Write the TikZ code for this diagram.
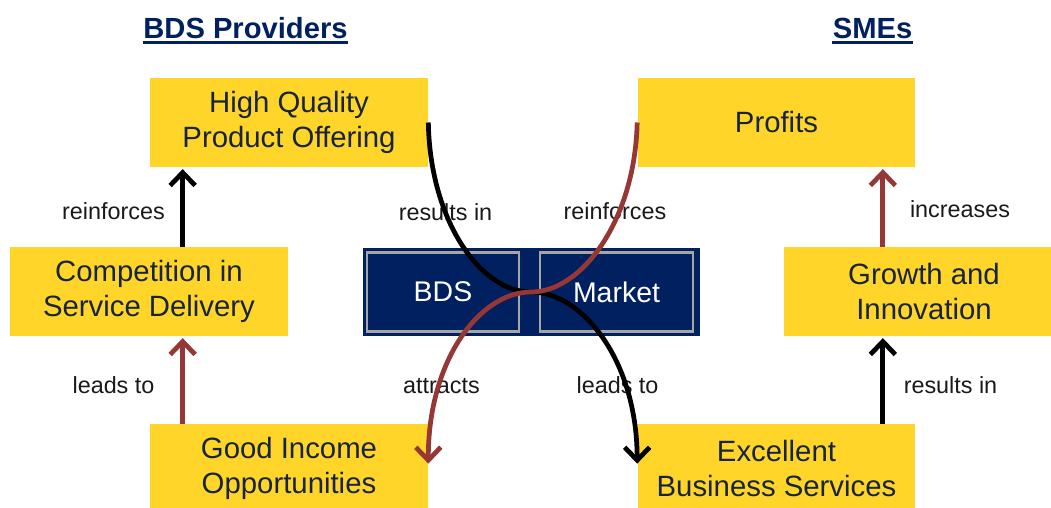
\documentclass[tikz,border=0pt]{standalone}
\usepackage{fontspec}
\setmainfont{Liberation Sans}
\usetikzlibrary{arrows.meta, positioning}
\definecolor{boxyellow}{RGB}{255,213,42}
\definecolor{navy}{RGB}{0,32,96}
\definecolor{boxtext}{RGB}{24,36,62}
\definecolor{brownred}{RGB}{149,55,53}
\tikzset{
    box/.style={
        rectangle, minimum width=5.56cm, minimum height=1.78cm, text centered, align=center,
        fill=boxyellow, text=boxtext, font=\fontsize{16.7}{19.6}\selectfont
    },
    title/.style={
        anchor=base, inner sep=0pt, text=navy, font=\fontsize{16.6}{20}\selectfont\bfseries
    },
    lbl/.style={
        anchor=base, inner sep=0pt, text=black!90, font=\fontsize{13.3}{16}\selectfont
    },
    market/.style={
        rectangle, draw=black!35, line width=1.2pt, fill=navy, text=white,
        minimum width=3.05cm, minimum height=1.58cm, font=\fontsize{16.2}{19}\selectfont
    },
    arrow/.style={
        line width=2.7pt, -{Straight Barb[length=2.6mm, width=5mm]}, shorten >=1pt
    }
}

\begin{document}
\begin{tikzpicture}[x=0.02cm, y=-0.02cm]
    \useasboundingbox (0,0) rectangle (1051,507);

    % Headings
    \node[title] (prov) at (245.5,38) {BDS Providers};
    \node[title] (smes) at (872.5,38) {SMEs};
    \draw[navy, line width=1.7pt] ([yshift=-0.09cm]prov.base west) -- ([yshift=-0.09cm]prov.base east);
    \draw[navy, line width=1.7pt] ([yshift=-0.09cm]smes.base west) -- ([yshift=-0.09cm]smes.base east);

    % Boxes
    \node[box] (hq) at (289,122.5) {High Quality\\Product Offering};
    \node[box] (profits) at (776.5,122.5) {Profits};
    \node[box] (comp) at (149,291.5) {Competition in\\Service Delivery};
    \node[box, minimum width=5.6cm] (growth) at (924,291.5) {Growth and\\Innovation};
    \node[box] (income) at (289,468.5) {Good Income\\Opportunities};
    \node[box] (excel) at (776.5,468.5) {Excellent\\Business Services};

    % BDS market in the middle
    \node[rectangle, fill=navy, minimum width=6.74cm, minimum height=1.76cm] (bar) at (531.5,292) {};
    \node[market] (bds) at (443,292) {BDS};
    \node[market] (mkt) at (616.5,292) {Market};

    % Labels
    \node[lbl] at (113.5,219) {reinforces};
    \node[lbl] at (113.5,393) {leads to};
    \node[lbl] at (960,217) {increases};
    \node[lbl] at (950.5,393) {results in};
    \node[lbl] at (445.5,220) {results in};
    \node[lbl] at (615,219) {reinforces};
    \node[lbl] at (441.5,393) {attracts};
    \node[lbl] at (617.5,393) {leads to};

    % Vertical arrows
    \coordinate (lx) at ([xshift=0.66cm]hq.south west);
    \coordinate (rx) at ([xshift=-0.66cm]profits.south east);
    \draw[arrow] (comp.north -| lx) -- (hq.south -| lx);
    \draw[arrow, brownred] (income.north -| lx) -- (comp.south -| lx);
    \draw[arrow, brownred] (growth.north -| rx) -- (profits.south -| rx);
    \draw[arrow] (excel.north -| rx) -- (growth.south -| rx);

    % Crossing curves
    \coordinate (mid) at (531,292);
    \coordinate (excelin) at ([yshift=-0.8cm]excel.north west);
    \coordinate (incomein) at ([yshift=-0.8cm]income.north east);
    \draw[arrow, shorten >=0pt] (hq.east) .. controls (430,220) and (480,292) .. (mid)
        .. controls (582,292) and (637,360) .. (excelin);
    \draw[arrow, brownred, shorten >=0pt] (profits.west) .. controls (635,220) and (582,292) .. (mid)
        .. controls (480,292) and (428,360) .. (incomein);

\end{tikzpicture}
\end{document}
